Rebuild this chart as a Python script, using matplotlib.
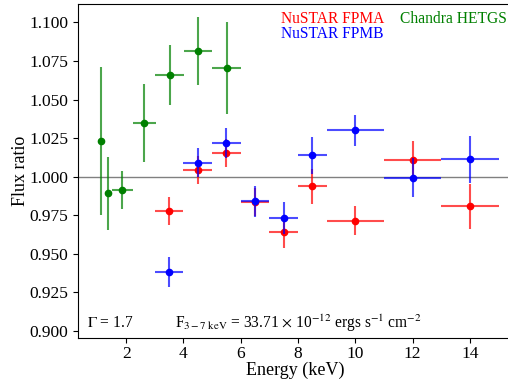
import numpy as np
import matplotlib
matplotlib.use('Agg')
import matplotlib.pyplot as plt

plt.rcParams['font.family'] = 'Liberation Serif'
plt.rcParams['mathtext.fontset'] = 'stix'

# Chandra HETGS
chan_E = [1.12, 1.38, 1.87, 2.63, 3.52, 4.51, 5.51]
chan_dE = [0.02, 0.12, 0.37, 0.40, 0.50, 0.50, 0.50]
chan_r = [1.0233, 0.9894, 0.9914, 1.0345, 1.0662, 1.0812, 1.0703]
chan_lo = [0.0479, 0.0239, 0.0126, 0.0252, 0.0196, 0.0218, 0.0297]
chan_hi = [0.0475, 0.0231, 0.0125, 0.0255, 0.0193, 0.0220, 0.0299]

# NuSTAR FPMA
fpma_E = [3.5, 4.5, 5.5, 6.5, 7.5, 8.5, 10.0, 12.0, 14.0]
fpma_dE = [0.5, 0.5, 0.5, 0.5, 0.5, 0.5, 1.0, 1.0, 1.0]
fpma_r = [0.9778, 1.0043, 1.0152, 0.9834, 0.9645, 0.9937, 0.9716, 1.0110, 0.9808]
fpma_err = [0.0093, 0.0090, 0.0092, 0.0090, 0.0104, 0.0112, 0.0092, 0.0119, 0.0148]

# NuSTAR FPMB
fpmb_E = [3.5, 4.5, 5.5, 6.5, 7.5, 8.5, 10.0, 12.0, 14.0]
fpmb_dE = [0.5, 0.5, 0.5, 0.5, 0.5, 0.5, 1.0, 1.0, 1.0]
fpmb_r = [0.9381, 1.0092, 1.0218, 0.9840, 0.9731, 1.0140, 1.0300, 0.9994, 1.0112]
fpmb_err = [0.0097, 0.0094, 0.0097, 0.0103, 0.0104, 0.0120, 0.0098, 0.0128, 0.0155]

fig = plt.figure(figsize=(5.08, 3.83), dpi=100)
ax = fig.add_axes([0.1541, 0.1175, 0.8557, 0.872])
ax.spines['right'].set_visible(False)

ax.axhline(1.0, color='gray', lw=1.0, zorder=1)

ax.errorbar(chan_E, chan_r, xerr=chan_dE, yerr=[chan_lo, chan_hi],
            fmt='o', color='green', ms=4.5, elinewidth=1.5, ecolor=(0, 0.5, 0, 0.7),
            capsize=0, zorder=2)
ax.errorbar(fpma_E, fpma_r, xerr=fpma_dE, yerr=fpma_err,
            fmt='o', color='red', ms=4.5, elinewidth=1.5, ecolor=(1, 0, 0, 0.7),
            capsize=0, zorder=3)
ax.errorbar(fpmb_E, fpmb_r, xerr=fpmb_dE, yerr=fpmb_err,
            fmt='o', color='blue', ms=4.5, elinewidth=1.5, ecolor=(0, 0, 1, 0.7),
            capsize=0, zorder=4)

ax.set_xlim(0.33, 15.5)
ax.set_ylim(0.8955, 1.1119)
ax.set_xticks([2, 4, 6, 8, 10, 12, 14])
ax.set_yticks(np.arange(0.900, 1.1001, 0.025))
ax.yaxis.set_major_formatter(matplotlib.ticker.FormatStrFormatter('%.3f'))
ax.tick_params(labelsize=12.5)
ax.tick_params(axis='x', pad=2.5)

ax.set_xlabel('Energy (keV)', fontsize=13, va='center')
ax.set_ylabel('Flux ratio', fontsize=13, va='center')
ax.xaxis.set_label_coords(0.5, -0.097)
ax.yaxis.set_label_coords(-0.134, 0.5)

ax.text(0.466, 0.955, 'NuSTAR FPMA', color='red', fontsize=11.2,
        transform=ax.transAxes, va='center', ha='left')
ax.text(0.466, 0.911, 'NuSTAR FPMB', color='blue', fontsize=11.2,
        transform=ax.transAxes, va='center', ha='left')
ax.text(0.740, 0.955, 'Chandra HETGS', color='green', fontsize=11.2,
        transform=ax.transAxes, va='center', ha='left')

ax.text(0.020, 0.045, r'$\Gamma$ = 1.7', fontsize=11.2,
        transform=ax.transAxes, va='center', ha='left')
ax.text(0.222, 0.045,
        r'F$_{3-7\ \rm keV}$ = 33.71 $\times$ 10$^{-12}$ ergs s$^{-1}$ cm$^{-2}$',
        fontsize=11.2, transform=ax.transAxes, va='center', ha='left')

fig.savefig('out.png', dpi=100)
